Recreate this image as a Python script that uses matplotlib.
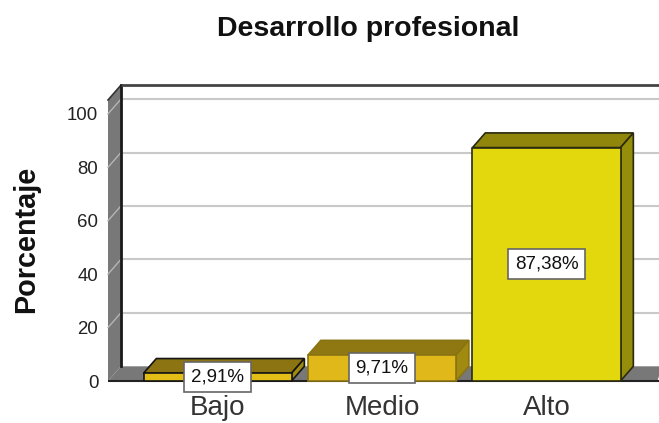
import matplotlib
matplotlib.use("Agg")
import matplotlib.pyplot as plt
from matplotlib.patches import Polygon

categorias = ["Bajo", "Medio", "Alto"]
porcentajes = [2.91, 9.71, 87.38]
etiquetas = ["2,91%", "9,71%", "87,38%"]
yticks = [0, 20, 40, 60, 80, 100]

colores = ["#e2be17", "#e0b81a", "#e3d80d"]
colores_top = ["#8c7412", "#8f7812", "#8f860b"]
colores_lado = ["#a08a10", "#a08a10", "#958e0a"]
colores_borde = ["#151515", "#8a7412", "#2a2a10"]

plt.rcParams["font.family"] = ["Liberation Sans", "DejaVu Sans"]

W, H = 659, 423
fig = plt.figure(figsize=(W / 100, H / 100), dpi=100)
ax = fig.add_axes([108 / W, (H - 381) / H, (W - 108) / W, 281 / H])
ax.set_xlim(-0.666, 2.684)
ax.set_ylim(0, 105.2)

# profundidad 3D en unidades de datos
dx = 0.078
dy = 5.5
ancho = 0.9
x0, x1 = ax.get_xlim()
ymax = ax.get_ylim()[1]


def poly(pts, fc, ec="none", lw=0, z=1):
    p = Polygon(pts, closed=True, facecolor=fc, edgecolor=ec, linewidth=lw,
                zorder=z, clip_on=False, joinstyle="miter")
    ax.add_patch(p)


# pared izquierda y suelo
poly([(x0, 0), (x0 + dx, dy), (x0 + dx, ymax + dy), (x0, ymax)], "#787878", "none", 0, 1)
poly([(x0, 0), (x0 + dx, dy), (x1 + 0.02, dy), (x1 - 0.01, 0)], "#787878", "none", 0, 1)

# rejilla
for v in yticks[1:]:
    ax.plot([x0 + dx, x1], [v + dy, v + dy], color="#c9c9c9", lw=1.5, zorder=1.5,
            solid_capstyle="butt", clip_on=False)
    ax.plot([x0, x0 + dx], [v, v + dy], color="#b5b5b5", lw=1, zorder=1.5, clip_on=False)

# bordes del fondo
ax.plot([x0, x0 + dx], [ymax, ymax + dy], color="#333333", lw=1.2, zorder=2, clip_on=False)
ax.plot([x0 + dx, x0 + dx], [dy, ymax + dy], color="#1a1a1a", lw=2, zorder=2, clip_on=False)
ax.plot([x0 + dx, x1], [ymax + dy, ymax + dy], color="#444444", lw=2, zorder=2,
        solid_capstyle="butt", clip_on=False)
ax.plot([x0, x1], [0, 0], color="#222222", lw=1.5, zorder=2, solid_capstyle="butt", clip_on=False)

# barras
for i, v in enumerate(porcentajes):
    a, b = i - ancho / 2, i + ancho / 2
    ec = colores_borde[i]
    poly([(a, v), (b, v), (b + dx, v + dy), (a + dx, v + dy)], colores_top[i], ec, 1.2, 3)
    poly([(b, 0), (b + dx, dy), (b + dx, v + dy), (b, v)], colores_lado[i], ec, 1.2, 3)
    poly([(a, 0), (b, 0), (b, v), (a, v)], colores[i], ec, 1.2, 3)

for i, v in enumerate(porcentajes):
    ax.text(i, v / 2, etiquetas[i], ha="center", va="center", fontsize=13.5, color="#111111", zorder=5,
            bbox=dict(boxstyle="square,pad=0.35", facecolor="white", edgecolor="#666666", linewidth=1.2))

for s in ax.spines.values():
    s.set_visible(False)
ax.patch.set_visible(False)
ax.set_yticks(yticks)
ax.set_yticklabels([str(t) for t in yticks], fontsize=13.4, color="#222222")
ax.set_xticks(range(len(categorias)))
ax.set_xticklabels(categorias, fontsize=20, color="#333333")
ax.tick_params(axis="y", length=0, pad=7)
ax.tick_params(axis="x", length=0, pad=10)

fig.text(368 / W, 1 - 29 / H, "Desarrollo profesional", ha="center", va="center",
         fontsize=20.5, fontweight="bold", color="#111111")
fig.text(26 / W, 1 - 239 / H, "Porcentaje", rotation=90, ha="center", va="center",
         fontsize=20.7, fontweight="bold", color="#111111")

fig.savefig("out.png", dpi=100, facecolor="white")
